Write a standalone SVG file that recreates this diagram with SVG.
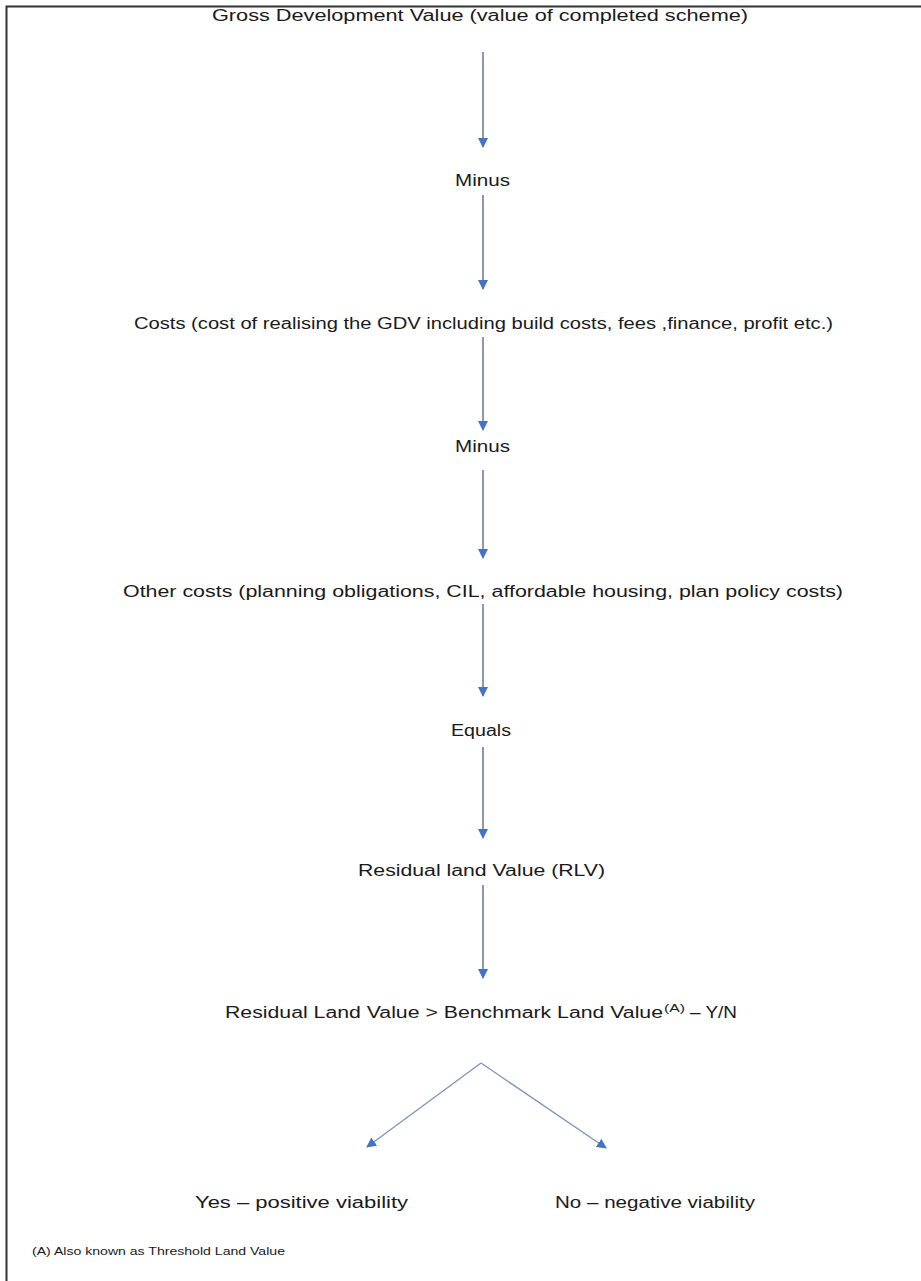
<svg xmlns="http://www.w3.org/2000/svg" width="921" height="1281" viewBox="0 0 921 1281">
<style>
.t{font-family:"Liberation Sans","Open Sans",sans-serif;font-size:16px;fill:#1a1a1a}
.s{font-family:"Liberation Sans","Open Sans",sans-serif;font-size:10.5px;fill:#1a1a1a}
.c{stroke:#4f6282;stroke-width:1.3;fill:none;marker-end:url(#ah)}
.d{stroke:#7d93b8;stroke-width:1.3;fill:none;marker-end:url(#ah)}
</style>
<defs>
<marker id="ah" viewBox="0 0 10 10" refX="9" refY="5" markerWidth="10" markerHeight="10" markerUnits="userSpaceOnUse" orient="auto">
<path d="M0,0 L10,5 L0,10 Z" fill="#4472c4"/>
</marker>
</defs>
<rect width="921" height="1281" fill="#ffffff"/>
<path d="M6.5,1281 V6.5 H921" stroke="#333" stroke-width="2" fill="none"/>
<g id="connectors">
<line class="c" x1="483" y1="52" x2="483" y2="147"/>
<line class="c" x1="483" y1="195" x2="483" y2="289"/>
<line class="c" x1="483" y1="337" x2="483" y2="430"/>
<line class="c" x1="483" y1="470" x2="483" y2="558"/>
<line class="c" x1="483" y1="604" x2="483" y2="696"/>
<line class="c" x1="483" y1="747" x2="483" y2="838"/>
<line class="c" x1="483" y1="885" x2="483" y2="978"/>
<polyline class="d" points="481,1063 367,1147"/>
<polyline class="d" points="481,1063 606,1148"/>
</g>
<g id="gdv"><text class="t" x="212" y="21" textLength="536" lengthAdjust="spacingAndGlyphs">Gross Development Value (value of completed scheme)</text></g>
<g id="minus1"><text class="t" x="455" y="186" textLength="55" lengthAdjust="spacingAndGlyphs">Minus</text></g>
<g id="costs"><text class="t" x="134" y="329" textLength="699" lengthAdjust="spacingAndGlyphs">Costs (cost of realising the GDV including build costs, fees ,finance, profit etc.)</text></g>
<g id="minus2"><text class="t" x="455" y="452" textLength="55" lengthAdjust="spacingAndGlyphs">Minus</text></g>
<g id="other"><text class="t" x="123" y="597" textLength="720" lengthAdjust="spacingAndGlyphs">Other costs (planning obligations, CIL, affordable housing, plan policy costs)</text></g>
<g id="equals"><text class="t" x="451" y="736" textLength="60" lengthAdjust="spacingAndGlyphs">Equals</text></g>
<g id="rlv"><text class="t" x="358" y="876" textLength="247" lengthAdjust="spacingAndGlyphs">Residual land Value (RLV)</text></g>
<g id="test">
<text class="t" x="225" y="1018" textLength="438" lengthAdjust="spacingAndGlyphs">Residual Land Value &gt; Benchmark Land Value</text>
<text class="s" x="664" y="1012" textLength="21" lengthAdjust="spacingAndGlyphs">(A)</text>
<text class="t" x="690" y="1018" textLength="47" lengthAdjust="spacingAndGlyphs">– Y/N</text>
</g>
<g id="yes"><text class="t" x="195" y="1208" textLength="213" lengthAdjust="spacingAndGlyphs">Yes – positive viability</text></g>
<g id="no"><text class="t" x="555" y="1208" textLength="200" lengthAdjust="spacingAndGlyphs">No – negative viability</text></g>
<g id="footnote"><text class="s" x="32" y="1255" textLength="253" lengthAdjust="spacingAndGlyphs">(A) Also known as Threshold Land Value</text></g>
</svg>
